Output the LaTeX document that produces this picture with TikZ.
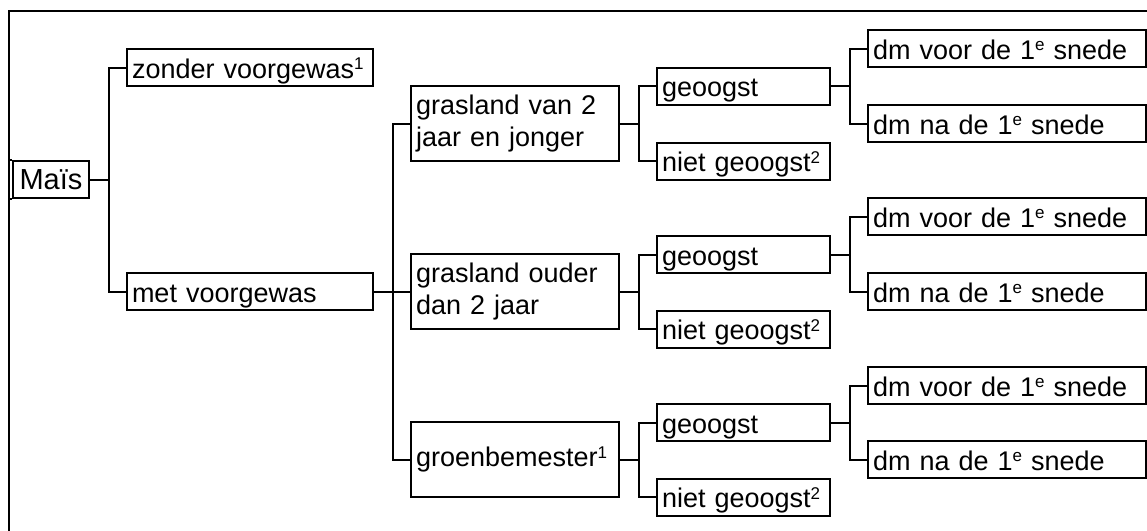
\documentclass[tikz,border=0pt]{standalone}
\usepackage{fontspec}
\setmainfont{Liberation Sans}
% small raised index (footnote marks, ordinal e)
\newcommand\supmark[1]{\raisebox{8.5pt}{\fontsize{17}{17}\selectfont #1}}
\begin{document}
\begin{tikzpicture}[x=1pt,y=-1pt,line width=2pt,
  box/.style={draw,rectangle,anchor=west,inner xsep=5pt,inner ysep=0pt,
    align=left,font=\fontsize{27}{32}\selectfont,minimum height=37pt},
  oneline/.style={text height=27pt,text depth=6pt},
  lvlA/.style={box,oneline,minimum width=246pt,text width=236pt},
  lvlB/.style={box,minimum width=208pt,text width=198pt,minimum height=75pt},
  lvlC/.style={box,oneline,minimum width=173pt,text width=163pt},
  lvlD/.style={box,oneline,minimum width=278pt,text width=268pt},
  link/.style={line width=2pt}]
\useasboundingbox (0,0) rectangle (1147,530);
% frame
\draw (9,545) -- (9,11) -- (1160,11);
% root
\node[draw,rectangle,anchor=west,inner sep=0pt,minimum width=76pt,minimum height=37pt,
  font=\fontsize{29}{34}\selectfont,text height=26pt,text depth=7pt] (mais) at (12,179.5) {Maïs};
\draw (mais.north west) -- ++(-3,0);
\draw (mais.south west) -- ++(-3,0);
% level 1
\node[lvlA] (zonder) at (126,67.5) {zonder voorgewas\supmark{1}};
\node[lvlA] (met) at (126,291.5) {met voorgewas};
% level 2
\node[lvlB] (grA) at (410,123.5) {grasland van 2\\jaar en jonger};
\node[lvlB] (grB) at (410,291.5) {grasland ouder\\dan 2 jaar};
\node[lvlB,text height=26pt,text depth=12pt] (grC) at (410,459.5) {groenbemester\supmark{1}};
% level 3
\node[lvlC] (geoA) at (656,86) {geoogst};
\node[lvlC] (nietA) at (656,161) {niet geoogst\supmark{2}};
\node[lvlC] (geoB) at (656,254.5) {geoogst};
\node[lvlC] (nietB) at (656,329) {niet geoogst\supmark{2}};
\node[lvlC] (geoC) at (656,422.5) {geoogst};
\node[lvlC] (nietC) at (656,497) {niet geoogst\supmark{2}};
% level 4
\node[lvlD] (voorA) at (867,48.5) {dm voor de 1\supmark{e} snede};
\node[lvlD] (naA) at (867,123.5) {dm na de 1\supmark{e} snede};
\node[lvlD] (voorB) at (867,216.5) {dm voor de 1\supmark{e} snede};
\node[lvlD] (naB) at (867,291.5) {dm na de 1\supmark{e} snede};
\node[lvlD] (voorC) at (867,385.5) {dm voor de 1\supmark{e} snede};
\node[lvlD] (naC) at (867,459.5) {dm na de 1\supmark{e} snede};
% connectors
\foreach \p/\c in {mais/zonder,mais/met,met/grA,met/grB,met/grC,
  grA/geoA,grA/nietA,grB/geoB,grB/nietB,grC/geoC,grC/nietC,
  geoA/voorA,geoA/naA,geoB/voorB,geoB/naB,geoC/voorC,geoC/naC}
  \draw[link] (\p.east) -- ++(19,0) |- (\c.west);
\end{tikzpicture}
\end{document}
